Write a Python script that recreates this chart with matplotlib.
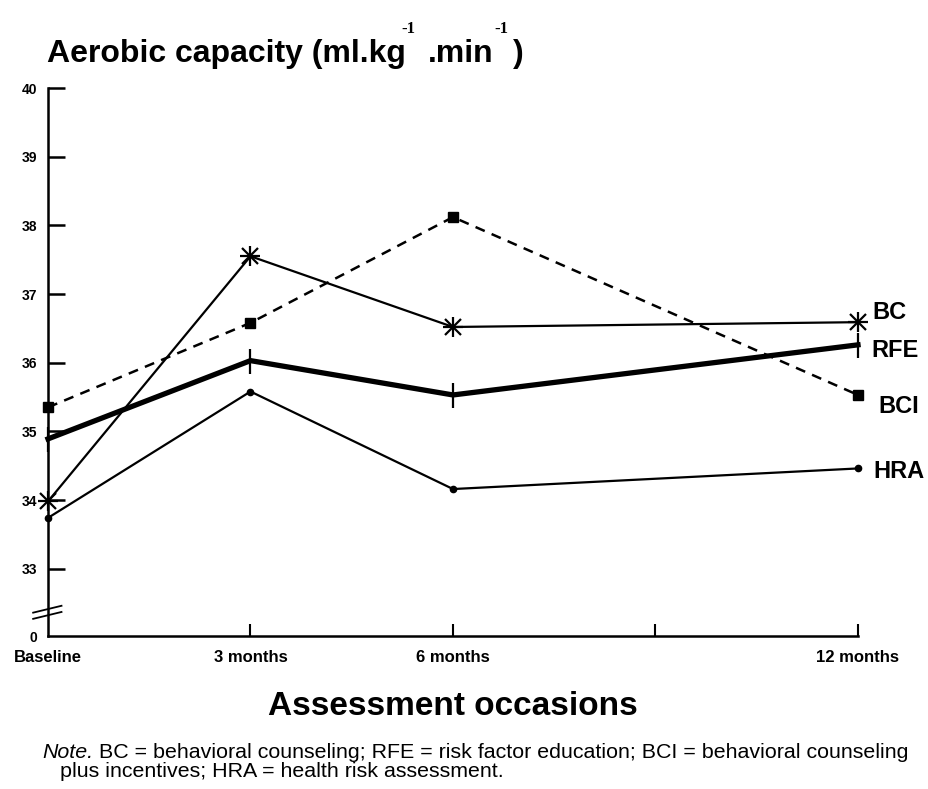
import matplotlib
matplotlib.use('Agg')
import matplotlib.pyplot as plt

# ---- data ----
months = [0, 3, 6, 12]
tick_labels = ['Baseline', '3 months', '6 months', '12 months']
bc = [33.98, 37.55, 36.52, 36.59]
rfe = [34.89, 36.03, 35.53, 36.26]
bci = [35.35, 36.58, 38.12, 35.53]
hra = [33.74, 35.58, 34.16, 34.46]
series_names = ['BC', 'RFE', 'BCI', 'HRA']
y_ticks = [33, 34, 35, 36, 37, 38, 39, 40]
y_tick_labels = ['33', '34', '35', '36', '37', '38', '39', '40']
y_zero = 32.02  # position of the "0" label below the axis break

SANS = ['Liberation Sans', 'DejaVu Sans']
SERIF = ['Liberation Serif', 'DejaVu Serif']

fig = plt.figure(figsize=(9.29, 7.89), dpi=100)
ax = fig.add_axes([48/929, 1-636/789, 810/929, 548/789])
ax.set_xlim(0, 12)
ax.set_ylim(y_zero, 40)

k = dict(color='black', clip_on=False)
# BCI dashed with squares
ax.plot(months, bci, ls=(0, (4, 3)), lw=1.8, marker='s', ms=7, **k)
# BC with asterisks
ax.plot(months, bc, lw=1.6, **k)
ax.plot(months, bc, ls='none', marker='+', ms=15, mew=1.6, **k)
ax.plot(months, bc, ls='none', marker='x', ms=11, mew=1.6, **k)
# RFE thick line
ax.plot(months, rfe, lw=3.8, marker='|', ms=18, mew=1.6, **k)
# HRA small dots
ax.plot(months, hra, lw=1.6, marker='o', ms=4.5, **k)

# series labels
offsets = {'BC': (10, 7.2), 'RFE': (9.4, -4.3), 'BCI': (14.4, -8.6), 'HRA': (10.8, -2.2)}
for name, vals in zip(series_names, [bc, rfe, bci, hra]):
    ax.annotate(name, xy=(months[-1], vals[-1]), xytext=offsets[name],
                textcoords='offset points', ha='left', va='center',
                fontsize=17, fontweight='bold', family=SANS,
                annotation_clip=False)

# spines / ticks
for s in ['top', 'right']:
    ax.spines[s].set_visible(False)
ax.spines['left'].set_linewidth(1.8)
ax.spines['bottom'].set_linewidth(1.8)
ax.set_yticks(y_ticks + [y_zero])
ax.set_yticklabels(y_tick_labels + ['0'])
ax.set_xticks([0, 3, 6, 9, 12])
ax.set_xticklabels([tick_labels[0], tick_labels[1], tick_labels[2], '', tick_labels[3]])
ax.tick_params(axis='y', direction='in', length=12, width=1.8, pad=8)
ax.tick_params(axis='x', direction='in', length=9, width=1.5, pad=10)
for lab in ax.get_yticklabels():
    lab.set_fontsize(10)
    lab.set_fontweight('bold')
    lab.set_family(SANS)
for lab in ax.get_xticklabels():
    lab.set_fontsize(12)
    lab.set_fontweight('bold')
    lab.set_family(SANS)
# hide the tick line at the zero label and the baseline x tick
ax.yaxis.get_major_ticks()[-1].tick1line.set_visible(False)
ax.xaxis.get_major_ticks()[0].tick1line.set_visible(False)

# axis break marks
for dy in (0.0, -0.09):
    ax.plot([-0.22, 0.2], [32.36 + dy, 32.46 + dy], color='black', lw=1.3, clip_on=False)

# title with superscripts
tfs = 23
sfs = 12
t1 = fig.text(47/929, 1-62/789, 'Aerobic capacity (ml.kg', fontsize=tfs,
              fontweight='bold', family=SANS, va='baseline', ha='left')
s1 = ax.annotate('-1', xy=(1, 0), xycoords=t1, xytext=(-3.5, 23), textcoords='offset points',
                 fontsize=sfs, fontweight='bold', family=SERIF,
                 va='bottom', ha='left', annotation_clip=False)
t2 = ax.annotate('.min', xy=(1, 0), xycoords=(s1, t1), xytext=(9, 0), textcoords='offset points',
                 fontsize=tfs, fontweight='bold', family=SANS, va='bottom', ha='left',
                 annotation_clip=False)
s2 = ax.annotate('-1', xy=(1, 0), xycoords=(t2, t1), xytext=(1, 23), textcoords='offset points',
                 fontsize=sfs, fontweight='bold', family=SERIF,
                 va='bottom', ha='left', annotation_clip=False)
t3 = ax.annotate(')', xy=(1, 0), xycoords=(s2, t1), xytext=(3.5, 0), textcoords='offset points',
                 fontsize=tfs, fontweight='bold', family=SANS, va='bottom', ha='left',
                 annotation_clip=False)

# x axis title
fig.text(453/929, 1-715/789, 'Assessment occasions', fontsize=24, fontweight='bold',
         family=SANS, ha='center', va='baseline')

# note
nfs = 15.4
n1 = fig.text(42/929, 1-758/789, 'Note.', fontsize=nfs, style='italic', family=SANS,
              ha='left', va='baseline')
ax.annotate(' BC = behavioral counseling; RFE = risk factor education; BCI = behavioral counseling',
            xy=(1, 0), xycoords=n1, fontsize=nfs, family=SANS, ha='left', va='bottom',
            annotation_clip=False)
fig.text(60/929, 1-777/789, 'plus incentives; HRA = health risk assessment.', fontsize=nfs,
         family=SANS, ha='left', va='baseline')

fig.savefig('out.png', dpi=100)
